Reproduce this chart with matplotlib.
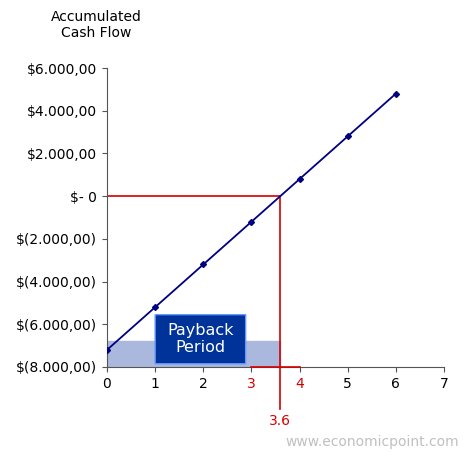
import matplotlib.pyplot as plt
from matplotlib.patches import FancyBboxPatch

plt.rcParams['font.family'] = ['DejaVu Sans']

years = [0, 1, 2, 3, 4, 5, 6]
cash_flow = [-7200, -5200, -3200, -1200, 800, 2800, 4800]
payback = 3.6
y_ticks = [6000, 4000, 2000, 0, -2000, -4000, -6000, -8000]
y_labels = ['$6.000,00', '$4.000,00', '$2.000,00', '$- 0', '$(2.000,00)',
            '$(4.000,00)', '$(6.000,00)', '$(8.000,00)']

fig = plt.figure(figsize=(4.68, 4.58), dpi=100)
ax = fig.add_axes([0.2286, 0.1987, 0.7201, 0.6528])
ax.set_xlim(0, 7)
ax.set_ylim(-8000, 6000)

ax.fill_between([0, payback], -8000, -6780, color='#a9b8dc', zorder=1)
ax.plot(years, cash_flow, color='#000080', marker='D', markersize=3, lw=1.3, zorder=3)

red = '#d40000'
ax.plot([0, payback], [0, 0], color=red, lw=1.2, zorder=2)
ax.plot([payback, payback], [0, -9950], color=red, lw=1.2, clip_on=False, zorder=2)
ax.plot([3, 4], [-8000, -8000], color=red, lw=1.2, clip_on=False, zorder=4)
ax.text(payback, -10200, '3.6', color=red, ha='center', va='top', fontsize=10)

box = FancyBboxPatch((1.0, -7850), 1.88, 2300, boxstyle='round,pad=0,rounding_size=0.03',
                     fc='#003399', ec='#6699ff', lw=1, zorder=5)
ax.add_patch(box)
ax.text(1.94, -6700, 'Payback\nPeriod', color='white', ha='center', va='center',
        fontsize=11.5, zorder=6)

ax.set_xticks(range(8))
ax.set_yticks(y_ticks)
ax.set_yticklabels(y_labels, fontsize=10)
ax.tick_params(axis='x', labelsize=10)
ax.tick_params(colors='#555555', labelcolor='black')
for lab in ax.get_xticklabels():
    if lab.get_text() in ('3', '4'):
        lab.set_color(red)
ax.spines['top'].set_visible(False)
ax.spines['right'].set_visible(False)
ax.spines['left'].set_color('#555555')
ax.spines['bottom'].set_color('#555555')

fig.text(0.205, 0.945, 'Accumulated\nCash Flow', ha='center', va='center', fontsize=10)
fig.text(0.98, 0.035, 'www.economicpoint.com', ha='right', va='center',
         fontsize=10, color='#c0c0c0')

fig.savefig('out.png', dpi=100)
